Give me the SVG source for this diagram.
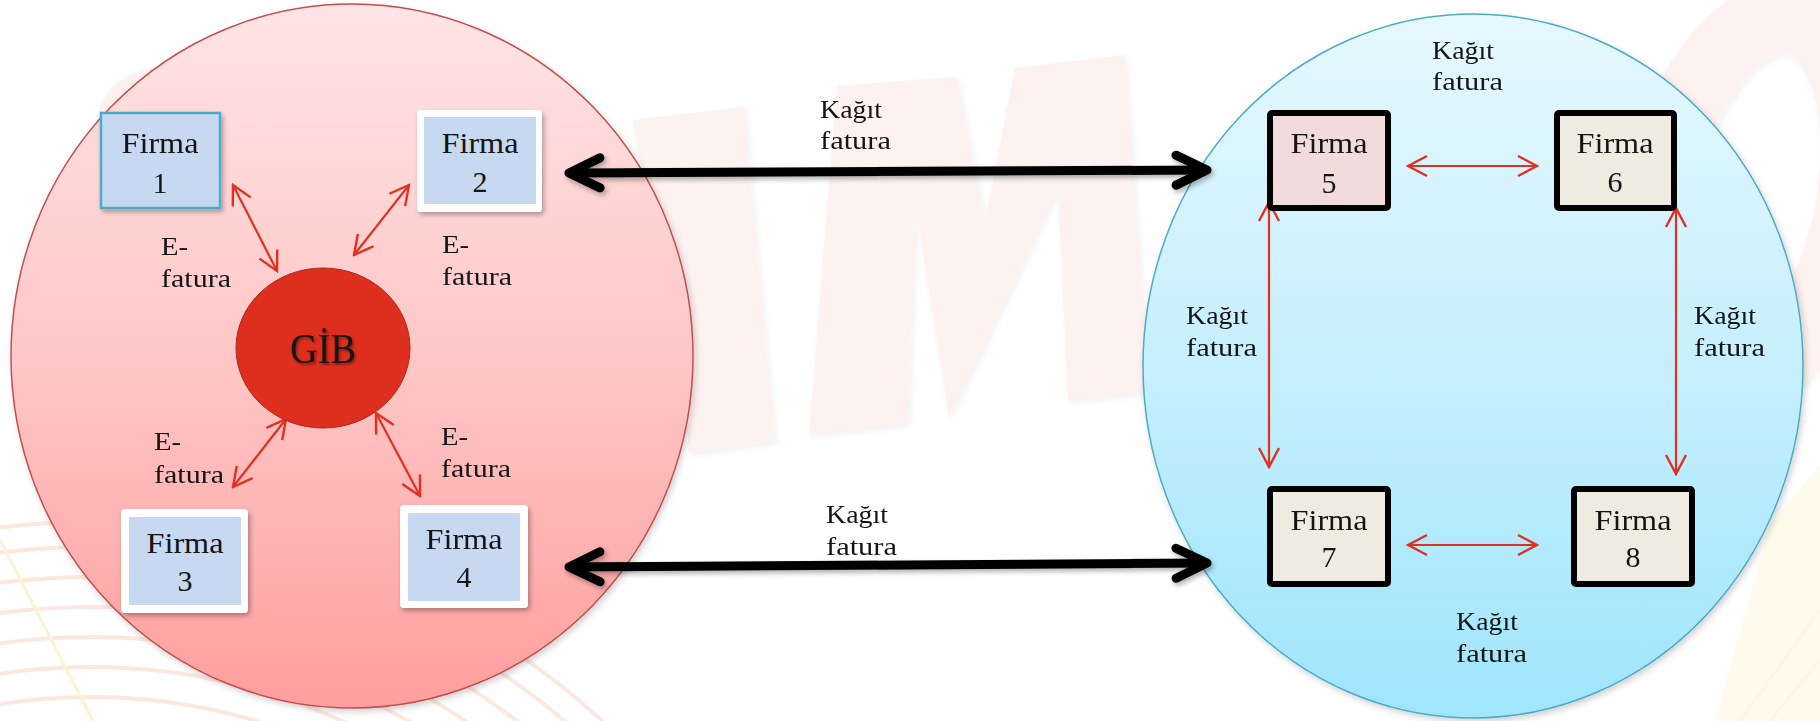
<svg xmlns="http://www.w3.org/2000/svg" width="1820" height="721" viewBox="0 0 1820 721">
<defs>
<linearGradient id="gPink" x1="0" y1="0" x2="0" y2="1">
<stop offset="0" stop-color="#fee4e4"/>
<stop offset="0.5" stop-color="#ffc7c7"/>
<stop offset="1" stop-color="#ff9e9e"/>
</linearGradient>
<linearGradient id="gBlue" x1="0" y1="0" x2="0" y2="1">
<stop offset="0" stop-color="#e6f8fe"/>
<stop offset="0.5" stop-color="#c6effd"/>
<stop offset="1" stop-color="#9fe5fc"/>
</linearGradient>
<filter id="sh" x="-20%" y="-20%" width="140%" height="140%">
<feDropShadow dx="2" dy="3" stdDeviation="2.5" flood-color="#000" flood-opacity="0.3"/>
</filter>
<filter id="shs" x="-5%" y="-5%" width="110%" height="110%">
<feDropShadow dx="2" dy="3" stdDeviation="3" flood-color="#000" flood-opacity="0.18"/>
</filter>
<filter id="shw" x="-5%" y="-5%" width="110%" height="110%">
<feDropShadow dx="2" dy="3" stdDeviation="3" flood-color="#000" flood-opacity="0.06"/>
</filter>
<filter id="tsh" x="-20%" y="-20%" width="140%" height="140%">
<feDropShadow dx="1.5" dy="2" stdDeviation="1" flood-color="#000" flood-opacity="0.4"/>
</filter>
<marker id="rh" viewBox="-22 -12 24 24" refX="0" refY="0" markerWidth="24" markerHeight="24" markerUnits="userSpaceOnUse" orient="auto-start-reverse">
<path d="M-19,-10 L0,0 L-19,10" fill="none" stroke="#e03020" stroke-width="2.4"/>
</marker>
<marker id="bh" viewBox="-40 -22 46 44" refX="0" refY="0" markerWidth="46" markerHeight="44" markerUnits="userSpaceOnUse" orient="auto-start-reverse">
<path d="M-31,-15 L0,0 L-31,15" fill="none" stroke="#000" stroke-width="9" stroke-linecap="round" stroke-linejoin="round"/>
</marker>
</defs>
<style>
text{font-family:"Liberation Serif","Times New Roman",serif;fill:#141414}
.f{font-size:30px;text-anchor:middle}
.l{font-size:26px}
.g{font-size:42px;text-anchor:middle;filter:url(#tsh)}
.wm{fill:#fdf2ef}
.arc{fill:none;stroke:#fde8e0;stroke-width:4}
.red{stroke:#e03020;stroke-width:2.2;fill:none;marker-start:url(#rh);marker-end:url(#rh)}
.blk{stroke:#000;stroke-width:9;fill:none;marker-start:url(#bh);marker-end:url(#bh)}
.bl{fill:#c6d9f1}
.wh{fill:#fff}
</style>

<g id="background">
<rect x="0" y="0" width="1820" height="721" fill="#fff"/>
<g class="arc">
<circle cx="91" cy="1278" r="756"/>
<circle cx="91" cy="1278" r="731"/>
<circle cx="91" cy="1278" r="701"/>
<circle cx="91" cy="1278" r="671"/>
<circle cx="91" cy="1278" r="641"/>
<circle cx="91" cy="1278" r="611"/>
<circle cx="91" cy="1278" r="581"/>
</g>
<path d="M0,540 L93,721" stroke="#fbf3d2" stroke-width="3" fill="none"/>
<path d="M1820,465 L1770,525 L1715,721 L1820,721 Z" fill="#fefbec"/>
<path d="M1740,721 L1820,610 M1770,721 L1820,660" stroke="#fcf6e2" stroke-width="3" fill="none"/>
<g filter="url(#shw)">
<path class="wm" d="M633,120 L744,107 L775,441 L690,453 Z"/>
<path class="wm" d="M837,86 L957,77 L985,221 L1015,68 L1125,55 L1149,391 L1068,400 L1058,189 L949,418 L916,207 L908,423 L809,434 Z"/>
<path class="wm" d="M97,115 Q110,70 160,68 L200,70 L200,300 L97,300 Z"/>
<ellipse cx="1755" cy="200" rx="95" ry="185" fill="none" stroke="#fdf2ef" stroke-width="70" transform="rotate(12 1755 200)"/>
</g>
</g>

<g id="left-region">
<ellipse cx="352" cy="356" rx="341" ry="352" fill="url(#gPink)" stroke="#c0504d" stroke-width="1.5" filter="url(#shs)"/>
</g>
<g id="right-region">
<ellipse cx="1473" cy="366" rx="330" ry="352" fill="url(#gBlue)" stroke="#4bacc6" stroke-width="1.5" filter="url(#shs)"/>
</g>

<g id="connectors">
<line class="red" x1="233" y1="185" x2="277" y2="271"/>
<line class="red" x1="409" y1="185" x2="354" y2="255"/>
<line class="red" x1="286" y1="419" x2="233" y2="487"/>
<line class="red" x1="376" y1="413" x2="420" y2="496"/>
<line class="red" x1="1408" y1="166" x2="1537" y2="166"/>
<line class="red" x1="1408" y1="545" x2="1537" y2="545"/>
<line class="red" x1="1269" y1="202" x2="1269" y2="467"/>
<line class="red" x1="1676" y1="208" x2="1676" y2="474"/>
<g filter="url(#sh)">
<line class="blk" x1="569" y1="173" x2="1207" y2="170"/>
<line class="blk" x1="569" y1="567" x2="1207" y2="563"/>
</g>
</g>

<g id="labels">
<text class="l" x="161" y="255" textLength="27" lengthAdjust="spacingAndGlyphs">E-</text>
<text class="l" x="161" y="287" textLength="70" lengthAdjust="spacingAndGlyphs">fatura</text>
<text class="l" x="442" y="253" textLength="27" lengthAdjust="spacingAndGlyphs">E-</text>
<text class="l" x="442" y="285" textLength="70" lengthAdjust="spacingAndGlyphs">fatura</text>
<text class="l" x="154" y="450" textLength="27" lengthAdjust="spacingAndGlyphs">E-</text>
<text class="l" x="154" y="483" textLength="70" lengthAdjust="spacingAndGlyphs">fatura</text>
<text class="l" x="441" y="445" textLength="27" lengthAdjust="spacingAndGlyphs">E-</text>
<text class="l" x="441" y="477" textLength="70" lengthAdjust="spacingAndGlyphs">fatura</text>
<text class="l" x="820" y="118" textLength="62" lengthAdjust="spacingAndGlyphs">Kağıt</text>
<text class="l" x="820" y="149" textLength="71" lengthAdjust="spacingAndGlyphs">fatura</text>
<text class="l" x="826" y="523" textLength="62" lengthAdjust="spacingAndGlyphs">Kağıt</text>
<text class="l" x="826" y="555" textLength="71" lengthAdjust="spacingAndGlyphs">fatura</text>
<text class="l" x="1432" y="59" textLength="62" lengthAdjust="spacingAndGlyphs">Kağıt</text>
<text class="l" x="1432" y="90" textLength="71" lengthAdjust="spacingAndGlyphs">fatura</text>
<text class="l" x="1186" y="324" textLength="62" lengthAdjust="spacingAndGlyphs">Kağıt</text>
<text class="l" x="1186" y="356" textLength="71" lengthAdjust="spacingAndGlyphs">fatura</text>
<text class="l" x="1694" y="324" textLength="62" lengthAdjust="spacingAndGlyphs">Kağıt</text>
<text class="l" x="1694" y="356" textLength="71" lengthAdjust="spacingAndGlyphs">fatura</text>
<text class="l" x="1456" y="630" textLength="62" lengthAdjust="spacingAndGlyphs">Kağıt</text>
<text class="l" x="1456" y="662" textLength="71" lengthAdjust="spacingAndGlyphs">fatura</text>
</g>

<g id="gib">
<ellipse cx="323" cy="348" rx="87" ry="80" fill="#de2f1e" stroke="#a8261a" stroke-width="1"/>
<text class="g" x="323" y="363" textLength="66" lengthAdjust="spacingAndGlyphs">GİB</text>
</g>

<g id="firma1">
<rect x="101" y="113" width="119" height="95" fill="#c6d9f1" stroke="#4bacc6" stroke-width="2.5" filter="url(#sh)"/>
<text class="f" x="160" y="153" textLength="77" lengthAdjust="spacingAndGlyphs">Firma</text>
<text class="f" x="160" y="193">1</text>
</g>
<g id="firma2">
<rect class="wh" x="417" y="110" width="125" height="102" rx="4" filter="url(#sh)"/>
<rect class="bl" x="424" y="117" width="112" height="87"/>
<text class="f" x="480" y="153" textLength="77" lengthAdjust="spacingAndGlyphs">Firma</text>
<text class="f" x="480" y="192">2</text>
</g>
<g id="firma3">
<rect class="wh" x="121" y="509" width="127" height="104" rx="4" filter="url(#sh)"/>
<rect class="bl" x="129" y="517" width="112" height="88"/>
<text class="f" x="185" y="553" textLength="77" lengthAdjust="spacingAndGlyphs">Firma</text>
<text class="f" x="185" y="591">3</text>
</g>
<g id="firma4">
<rect class="wh" x="400" y="505" width="128" height="103" rx="4" filter="url(#sh)"/>
<rect class="bl" x="408" y="513" width="112" height="88"/>
<text class="f" x="464" y="549" textLength="77" lengthAdjust="spacingAndGlyphs">Firma</text>
<text class="f" x="464" y="587">4</text>
</g>
<g id="firma5">
<rect x="1270" y="113" width="118" height="95" rx="2" fill="#f2dcdb" stroke="#000" stroke-width="6"/>
<text class="f" x="1329" y="153" textLength="77" lengthAdjust="spacingAndGlyphs">Firma</text>
<text class="f" x="1329" y="193">5</text>
</g>
<g id="firma6">
<rect x="1557" y="113" width="117" height="95" rx="2" fill="#eeece1" stroke="#000" stroke-width="6"/>
<text class="f" x="1615" y="153" textLength="77" lengthAdjust="spacingAndGlyphs">Firma</text>
<text class="f" x="1615" y="192">6</text>
</g>
<g id="firma7">
<rect x="1270" y="489" width="118" height="95" rx="2" fill="#eeece1" stroke="#000" stroke-width="6"/>
<text class="f" x="1329" y="530" textLength="77" lengthAdjust="spacingAndGlyphs">Firma</text>
<text class="f" x="1329" y="567">7</text>
</g>
<g id="firma8">
<rect x="1574" y="489" width="118" height="95" rx="2" fill="#eeece1" stroke="#000" stroke-width="6"/>
<text class="f" x="1633" y="530" textLength="77" lengthAdjust="spacingAndGlyphs">Firma</text>
<text class="f" x="1633" y="567">8</text>
</g>
</svg>
